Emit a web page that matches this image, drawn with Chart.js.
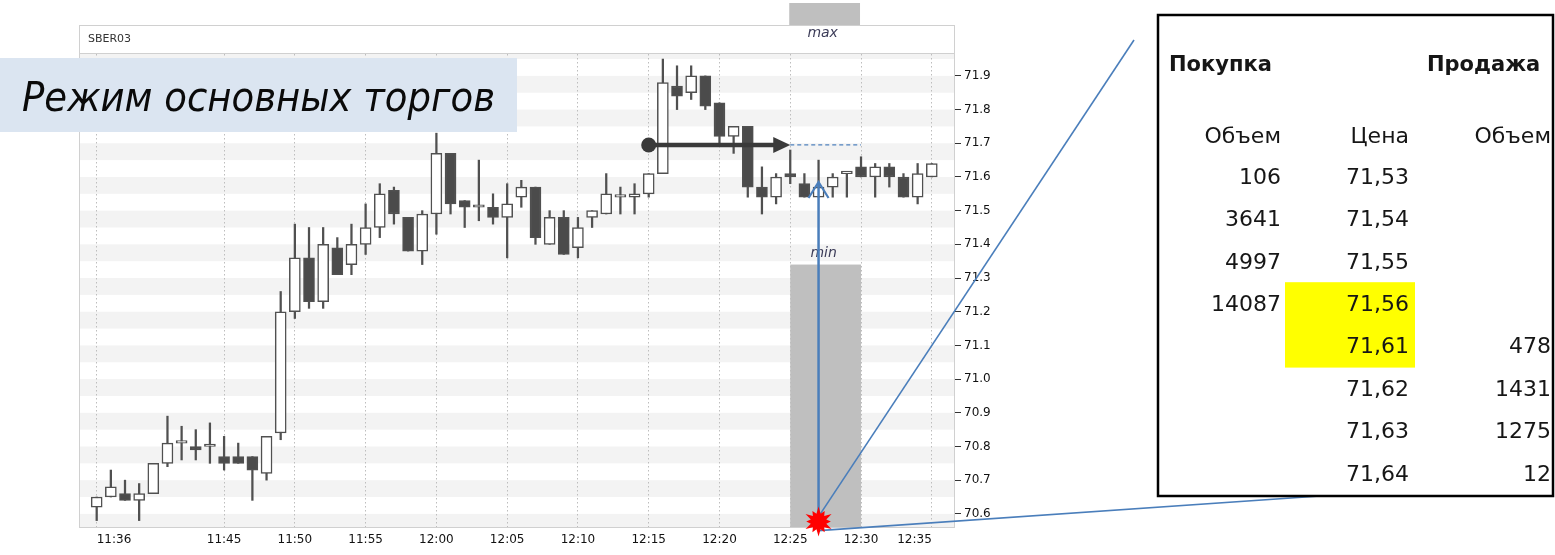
<!DOCTYPE html>
<html><head><meta charset="utf-8">
<script src="https://cdn.jsdelivr.net/npm/chart.js@4.4.1/dist/chart.umd.min.js"></script>
<style>html,body{margin:0;padding:0;background:#fff;overflow:hidden}canvas{display:block}</style>
</head><body>
<canvas id="c" width="1555" height="555"></canvas>
<script>
// ---------- data ----------
const times = ['11:36','11:37','11:38','11:39','11:40','11:41','11:42','11:43','11:44','11:45',
  '11:46','11:47','11:48','11:49','11:50','11:51','11:52','11:53','11:54','11:55',
  '11:56','11:57','11:58','11:59','12:00','12:01','12:02','12:03','12:04','12:05',
  '12:06','12:07','12:08','12:09','12:10','12:11','12:12','12:13','12:14','12:15',
  '12:16','12:17','12:18','12:19','12:20','12:21','12:22','12:23','12:24','12:25',
  '12:26','12:27','12:28','12:29','12:30','12:31','12:32','12:33','12:34','12:35'];
const opens = [70.62,70.65,70.66,70.64,70.66,70.75,70.81,70.80,70.80,70.77,
  70.77,70.77,70.72,70.84,71.20,71.36,71.23,71.39,71.34,71.40,
  71.45,71.56,71.48,71.38,71.49,71.67,71.53,71.51,71.51,71.48,
  71.54,71.57,71.40,71.48,71.39,71.48,71.49,71.54,71.54,71.55,
  71.61,71.87,71.85,71.90,71.82,71.72,71.75,71.57,71.54,71.61,
  71.58,71.54,71.57,71.61,71.63,71.60,71.63,71.60,71.54,71.60];
const highs = [70.65,70.73,70.70,70.69,70.75,70.89,70.86,70.85,70.87,70.83,
  70.81,70.77,70.83,71.26,71.46,71.45,71.45,71.42,71.46,71.52,
  71.58,71.57,71.48,71.50,71.73,71.67,71.53,71.65,71.55,71.58,
  71.59,71.57,71.50,71.50,71.48,71.50,71.61,71.57,71.58,71.61,
  71.95,71.93,71.93,71.90,71.82,71.75,71.75,71.63,71.61,71.68,
  71.61,71.65,71.61,71.61,71.66,71.64,71.64,71.61,71.64,71.64];
const lows = [70.58,70.65,70.64,70.58,70.66,70.74,70.76,70.76,70.75,70.73,
  70.75,70.64,70.70,70.82,71.18,71.21,71.21,71.31,71.31,71.37,
  71.42,71.46,71.38,71.34,71.43,71.49,71.45,71.47,71.46,71.36,
  71.51,71.40,71.40,71.37,71.36,71.45,71.49,71.49,71.49,71.54,
  71.61,71.80,71.83,71.80,71.70,71.67,71.54,71.49,71.52,71.58,
  71.54,71.54,71.54,71.54,71.60,71.54,71.57,71.54,71.52,71.60];
const closes = [70.65,70.68,70.64,70.66,70.75,70.81,70.81,70.79,70.80,70.75,
  70.75,70.73,70.83,71.20,71.36,71.23,71.40,71.31,71.40,71.45,
  71.55,71.49,71.38,71.49,71.67,71.52,71.51,71.51,71.48,71.52,
  71.57,71.42,71.48,71.37,71.45,71.50,71.55,71.54,71.55,71.61,
  71.88,71.84,71.90,71.81,71.72,71.75,71.57,71.54,71.60,71.60,
  71.54,71.57,71.60,71.61,71.60,71.63,71.60,71.54,71.61,71.64];
const xTickLabels = ['11:36','11:45','11:50','11:55','12:00','12:05','12:10','12:15','12:20','12:25','12:30','12:35'];
const yTicks = [70.6,70.7,70.8,70.9,71.0,71.1,71.2,71.3,71.4,71.5,71.6,71.7,71.8,71.9];

const bookPrices = ['71,53','71,54','71,55','71,56','71,61','71,62','71,63','71,64'];
const bidVolumes = ['106','3641','4997','14087','','','',''];
const askVolumes = ['','','','','478','1431','1275','12'];
const spreadRows = [3,4];

const titleText = 'SBER03';
const modeText = 'Режим основных торгов';
const buyText = 'Покупка', sellText = 'Продажа', volText = 'Объем', priceText = 'Цена';

// annotation anchors (data coordinates)
const levelPrice = 71.695, levelFrom = '12:15', levelTo = '12:25', levelDashTo = '12:30';
const zoneFrom = '12:25', zoneTo = '12:30', zoneTopPrice = 71.34;
const tradeTime = '12:27', tradeLow = 70.58, tradeTip = 71.585;

// ---------- helpers ----------
const toMin = s => { const p = s.split(':').map(Number); return p[0]*60 + p[1]; };
const xTickValues = xTickLabels.map(toMin);
const bodies = times.map((t,i) => ({x: toMin(t), y: [opens[i], closes[i]]}));
const wicks  = times.map((t,i) => ({x: toMin(t), y: [lows[i], highs[i]]}));
const bodyColors = times.map((t,i) => closes[i] >= opens[i] ? '#ffffff' : '#4b4b4b');

Chart.defaults.font.family = '"DejaVu Sans", sans-serif';

function fitText(ctx, txt, x, y, font, targetW) {
  ctx.font = font;
  const w = ctx.measureText(txt).width;
  ctx.save(); ctx.translate(x, y); ctx.scale(targetW / w, 1);
  ctx.textAlign = 'left'; ctx.fillText(txt, 0, 0); ctx.restore();
}
function starShape(ctx, cx, cy, n, rOut, rIn) {
  ctx.beginPath();
  for (let k = 0; k < 2*n; k++) {
    const r = (k % 2) ? rIn : rOut * ((k % 4 === 0) ? 1 : 0.82);
    const a = -Math.PI/2 + k * Math.PI / n;
    ctx.lineTo(cx + r*Math.cos(a), cy + r*Math.sin(a));
  }
  ctx.closePath(); ctx.fill();
}

const annot = {
  id: 'annot',
  beforeDraw(chart) {
    const {ctx, chartArea: a, scales: {y}} = chart;
    ctx.save();
    ctx.fillStyle = '#fff'; ctx.fillRect(0, 0, chart.width, chart.height);
    ctx.beginPath(); ctx.rect(a.left, a.top, a.right - a.left, a.bottom - a.top); ctx.clip();
    ctx.fillStyle = '#f3f3f3';
    for (let v = Math.ceil(y.max * 10) / 10 + 0.1; v > y.min - 0.1; v -= 0.1) {
      const t = y.getPixelForValue(v), b = y.getPixelForValue(v - 0.05);
      ctx.fillRect(a.left, t, a.right - a.left, b - t);
    }
    ctx.restore();
  },
  afterDatasetsDraw(chart) {
    const {ctx, chartArea: a, scales: {x, y}} = chart;
    ctx.save();
    // min zone
    const zx1 = x.getPixelForValue(toMin(zoneFrom)), zx2 = x.getPixelForValue(toMin(zoneTo));
    const zt = y.getPixelForValue(zoneTopPrice);
    ctx.fillStyle = '#bfbfbf';
    ctx.fillRect(zx1, zt, zx2 - zx1, a.bottom - zt);
    ctx.fillStyle = '#3c3c58';
    ctx.font = 'italic 14px "DejaVu Sans"'; ctx.textAlign = 'center'; ctx.textBaseline = 'middle';
    ctx.fillText('min', (zx1 + zx2)/2 - 2, zt - 11);

    // black level arrow
    const lx1 = x.getPixelForValue(toMin(levelFrom)), lx2 = x.getPixelForValue(toMin(levelTo));
    const lx3 = x.getPixelForValue(toMin(levelDashTo));
    const ly = y.getPixelForValue(levelPrice);
    ctx.strokeStyle = '#4f81bd'; ctx.lineWidth = 1.3; ctx.setLineDash([4, 3]);
    ctx.beginPath(); ctx.moveTo(lx2, ly); ctx.lineTo(lx3, ly); ctx.stroke();
    ctx.setLineDash([]);
    ctx.strokeStyle = '#3a3a3a'; ctx.fillStyle = '#3a3a3a'; ctx.lineWidth = 4.5;
    ctx.beginPath(); ctx.moveTo(lx1, ly); ctx.lineTo(lx2 - 14, ly); ctx.stroke();
    ctx.beginPath(); ctx.moveTo(lx2, ly); ctx.lineTo(lx2 - 17, ly - 8); ctx.lineTo(lx2 - 17, ly + 8); ctx.closePath(); ctx.fill();
    ctx.beginPath(); ctx.arc(lx1, ly, 7.5, 0, Math.PI*2); ctx.fill();

    // blue vertical arrow
    const tx = x.getPixelForValue(toMin(tradeTime));
    const ty1 = y.getPixelForValue(tradeLow), ty2 = y.getPixelForValue(tradeTip);
    ctx.strokeStyle = '#4a7ebb'; ctx.lineWidth = 2.5;
    ctx.beginPath(); ctx.moveTo(tx, ty1); ctx.lineTo(tx, ty2 + 2); ctx.stroke();
    ctx.lineWidth = 2.2;
    ctx.beginPath(); ctx.moveTo(tx - 10, ty2 + 16); ctx.lineTo(tx, ty2); ctx.lineTo(tx + 10, ty2 + 16); ctx.stroke();
    ctx.restore();
  },
  afterDraw(chart) {
    const {ctx, chartArea: a, scales: {x, y}} = chart;
    ctx.save();
    // frame + header
    ctx.fillStyle = '#fff'; ctx.fillRect(a.left, a.top - 29, a.right - a.left, 28);
    ctx.strokeStyle = '#d0d0d0'; ctx.lineWidth = 1;
    ctx.strokeRect(a.left + 0.5, a.top - 28.5, a.right - a.left - 1, a.bottom - a.top + 28);
    ctx.beginPath(); ctx.moveTo(a.left, a.top - 0.5); ctx.lineTo(a.right, a.top - 0.5); ctx.stroke();
    ctx.fillStyle = '#333'; ctx.font = '11px "DejaVu Sans"'; ctx.textBaseline = 'middle'; ctx.textAlign = 'left';
    ctx.fillText(titleText, a.left + 9, a.top - 15);

    // max zone
    const zx1 = x.getPixelForValue(toMin(zoneFrom)), zx2 = x.getPixelForValue(toMin(zoneTo));
    ctx.fillStyle = '#bfbfbf';
    ctx.fillRect(zx1 - 1, a.top - 51, zx2 - zx1, 22);
    ctx.fillStyle = '#3c3c58'; ctx.font = 'italic 14px "DejaVu Sans"'; ctx.textAlign = 'center';
    ctx.fillText('max', (zx1 + zx2)/2 - 3, a.top - 21);

    // mode label
    ctx.fillStyle = '#dbe5f1'; ctx.fillRect(0, 58, 517, 74);
    ctx.fillStyle = '#0a0a0a'; ctx.textBaseline = 'alphabetic';
    fitText(ctx, modeText, 22, 111, 'italic 41px "DejaVu Sans"', 473);

    // order book
    const bx = 1158, by = 15, bw = 395, bh = 481;
    const row0 = 178, step = 42.4;
    const colR = [1281, 1409, 1551];
    ctx.fillStyle = '#ffff00';
    const hy1 = row0 + spreadRows[0]*step - 23, hy2 = row0 + spreadRows[1]*step + 20;
    ctx.fillRect(1285, hy1, 130, hy2 - hy1);

    // connector lines
    const tx = x.getPixelForValue(toMin(tradeTime));
    const sy = y.getPixelForValue(tradeLow);
    ctx.strokeStyle = '#4a7ebb'; ctx.lineWidth = 1.6;
    ctx.beginPath(); ctx.moveTo(tx, sy - 4); ctx.lineTo(1134, 40); ctx.stroke();
    ctx.beginPath(); ctx.moveTo(tx, sy + 10); ctx.lineTo(1320, by + bh); ctx.stroke();

    ctx.strokeStyle = '#000'; ctx.lineWidth = 2.5;
    ctx.strokeRect(bx, by, bw, bh);

    ctx.fillStyle = '#161616'; ctx.textBaseline = 'middle';
    ctx.font = 'bold 21px "DejaVu Sans"'; ctx.textAlign = 'left';
    ctx.fillText(buyText, 1169, 66);
    ctx.fillText(sellText, 1427, 66);
    ctx.font = '22px "DejaVu Sans"'; ctx.textAlign = 'right';
    ctx.fillText(volText, colR[0], 137);
    ctx.fillText(priceText, colR[1], 137);
    ctx.fillText(volText, colR[2], 137);
    bookPrices.forEach((p, i) => {
      const ry = row0 + i*step;
      ctx.fillText(bidVolumes[i], colR[0], ry);
      ctx.fillText(p, colR[1], ry);
      ctx.fillText(askVolumes[i], colR[2], ry);
    });

    // star
    ctx.fillStyle = '#ff0000';
    starShape(ctx, tx, sy + 1, 12, 15, 8);
    ctx.restore();
  }
};

const firstX = toMin(times[0]), lastX = toMin(times[times.length - 1]);

new Chart(document.getElementById('c'), {
  type: 'bar',
  data: {
    datasets: [
      { label: 'body', data: bodies, backgroundColor: bodyColors, borderColor: '#505050', borderWidth: 1.5,
        borderSkipped: false, grouped: false, barPercentage: 1, categoryPercentage: 1,
        maxBarThickness: 11, minBarLength: 2.5, order: 0 },
      { label: 'wick', data: wicks, backgroundColor: '#505050', borderWidth: 0, grouped: false,
        barPercentage: 1, categoryPercentage: 1, maxBarThickness: 1.6, order: 1 }
    ]
  },
  options: {
    responsive: false, animation: false, devicePixelRatio: 1,
    layout: { padding: { left: 79, top: 54, right: 555, bottom: 7 } },
    plugins: { legend: { display: false }, tooltip: { enabled: false } },
    scales: {
      x: {
        type: 'linear', min: firstX - 1.25, max: lastX + 1.64, offset: false,
        grid: { offset: false, color: '#bdbdbd', lineWidth: 1, drawTicks: false },
        border: { display: false, dash: [1.5, 2.5] },
        ticks: { autoSkip: false, maxRotation: 0, align: 'inner', padding: 5, color: '#111',
          font: { size: 12 }, callback: (v, i) => xTickLabels[i] },
        afterBuildTicks: s => { s.ticks = xTickValues.map(v => ({ value: v })); },
        afterFit: s => { s.height = 20; }
      },
      y: {
        type: 'linear', position: 'right', min: 70.558, max: 71.965,
        grid: { drawOnChartArea: false, drawTicks: true, tickLength: 6, tickColor: '#333', tickWidth: 1 },
        border: { display: false },
        ticks: { autoSkip: false, padding: 3, color: '#111', font: { size: 12 }, callback: v => v.toFixed(1) },
        afterBuildTicks: s => { s.ticks = yTicks.map(v => ({ value: v })); },
        afterFit: s => { s.width = 45; }
      }
    }
  },
  plugins: [annot]
});
</script>
</body></html>
